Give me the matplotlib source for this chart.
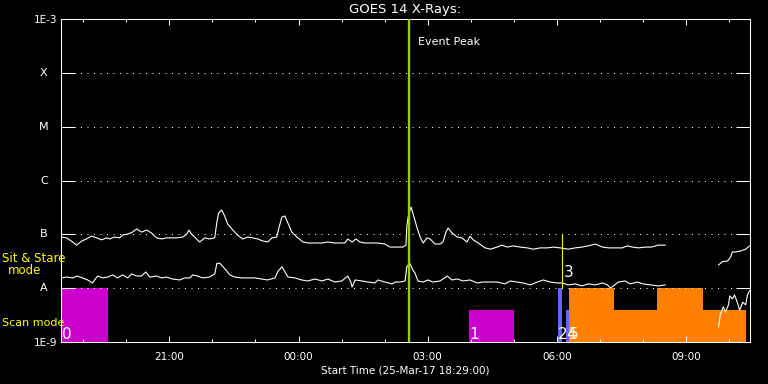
import numpy as np
import pandas as pd
import matplotlib
matplotlib.use("Agg")
import matplotlib.pyplot as plt
from matplotlib.ticker import FixedLocator, NullLocator

# start of the plotted window, times below are hours after it
start = pd.Timestamp("2017-03-25 18:29:00")
span_hours = 16

# long channel (upper curve), W/m^2
t_long = [0.01, 0.13, 0.27, 0.36, 0.48, 0.59, 0.71, 0.83, 0.94, 1.06,
          1.13, 1.24, 1.36, 1.43, 1.55, 1.66, 1.76, 1.87, 1.99, 2.10,
          2.22, 2.34, 2.45, 2.57, 2.69, 2.83, 2.92, 2.97, 3.03, 3.10,
          3.22, 3.34, 3.45, 3.57, 3.62, 3.66, 3.73, 3.80, 3.87, 3.99,
          4.10, 4.22, 4.34, 4.45, 4.57, 4.69, 4.80, 4.90, 5.01, 5.06,
          5.13, 5.20, 5.27, 5.36, 5.48, 5.62, 5.73, 5.90, 6.06, 6.20,
          6.36, 6.52, 6.59, 6.66, 6.76, 6.85, 6.94, 7.06, 7.22, 7.36,
          7.52, 7.64, 7.80, 7.94, 8.01, 8.03, 8.06, 8.13, 8.17, 8.27,
          8.34, 8.41, 8.50, 8.57, 8.69, 8.80, 8.87, 8.94, 8.99, 9.08,
          9.20, 9.31, 9.43, 9.50, 9.57, 9.69, 9.85, 9.97, 10.13, 10.24,
          10.36, 10.50, 10.66, 10.83, 10.97, 11.13, 11.29, 11.43, 11.59, 11.78,
          11.94, 12.10, 12.24, 12.41, 12.57, 12.71, 12.87, 13.03, 13.15, 13.27,
          13.41, 13.57, 13.71, 13.87, 14.03, 14.50, 15.27, 15.36, 15.48, 15.55,
          15.59, 15.66, 15.78, 15.90, 15.99]
flux_long = [8.9e-8, 8.6e-8, 7.2e-8, 6.3e-8, 7.5e-8, 8.2e-8, 9.3e-8, 8.6e-8, 7.9e-8, 8.6e-8,
             8.2e-8, 8.9e-8, 8.6e-8, 9.7e-8, 1.01e-7, 1.10e-7, 1.26e-7, 1.10e-7, 1.20e-7, 1.06e-7,
             8.6e-8, 8.2e-8, 8.6e-8, 8.6e-8, 8.6e-8, 8.9e-8, 1.01e-7, 1.20e-7, 1.01e-7, 8.9e-8,
             7.2e-8, 8.6e-8, 8.2e-8, 8.6e-8, 1.69e-7, 2.49e-7, 2.83e-7, 2.19e-7, 1.56e-7, 1.20e-7,
             9.7e-8, 8.2e-8, 8.9e-8, 8.6e-8, 8.2e-8, 7.5e-8, 7.2e-8, 8.6e-8, 8.9e-8, 1.31e-7,
             2.10e-7, 2.19e-7, 1.62e-7, 1.10e-7, 8.9e-8, 7.2e-8, 6.9e-8, 6.9e-8, 6.9e-8, 7.2e-8,
             6.9e-8, 6.9e-8, 6.9e-8, 8.2e-8, 7.2e-8, 8.2e-8, 7.2e-8, 6.9e-8, 6.9e-8, 6.9e-8,
             6.6e-8, 5.8e-8, 5.8e-8, 5.8e-8, 6.3e-8, 1.37e-7, 2.10e-7, 3.22e-7, 2.49e-7, 1.31e-7,
             8.9e-8, 6.9e-8, 8.6e-8, 8.2e-8, 6.6e-8, 6.6e-8, 7.2e-8, 1.10e-7, 1.31e-7, 1.06e-7,
             8.9e-8, 8.6e-8, 7.2e-8, 9.3e-8, 7.9e-8, 6.9e-8, 5.6e-8, 5.3e-8, 5.8e-8, 6.3e-8,
             5.8e-8, 6.1e-8, 5.8e-8, 5.6e-8, 5.3e-8, 5.6e-8, 5.6e-8, 5.8e-8, 5.6e-8, 5.3e-8,
             5.6e-8, 5.8e-8, 6.1e-8, 6.6e-8, 5.8e-8, 5.6e-8, 5.6e-8, 5.6e-8, 6.1e-8, 5.8e-8,
             5.6e-8, 5.8e-8, 5.8e-8, 6.3e-8, 6.3e-8, np.nan, 2.7e-8, 3.1e-8, 3.2e-8, 3.8e-8,
             4.7e-8, 4.7e-8, 4.9e-8, 5.3e-8, 6.1e-8]

# short channel (lower curve), W/m^2
t_short = [0.01, 0.13, 0.27, 0.38, 0.50, 0.62, 0.73, 0.85, 0.97, 1.08,
           1.20, 1.31, 1.43, 1.55, 1.64, 1.76, 1.87, 1.97, 2.06, 2.22,
           2.34, 2.45, 2.59, 2.76, 2.87, 2.99, 3.06, 3.17, 3.29, 3.45,
           3.57, 3.62, 3.69, 3.76, 3.85, 3.92, 4.03, 4.20, 4.34, 4.50,
           4.66, 4.80, 4.97, 5.03, 5.13, 5.20, 5.27, 5.43, 5.59, 5.73,
           5.90, 6.06, 6.20, 6.36, 6.52, 6.66, 6.73, 6.76, 6.83, 6.99,
           7.13, 7.29, 7.36, 7.52, 7.69, 7.76, 7.87, 7.99, 8.03, 8.10,
           8.17, 8.22, 8.29, 8.41, 8.52, 8.64, 8.80, 8.97, 9.08, 9.20,
           9.34, 9.50, 9.66, 9.80, 9.97, 10.13, 10.31, 10.43, 10.59, 10.73,
           10.90, 11.06, 11.20, 11.36, 11.52, 11.64, 11.78, 11.94, 12.10, 12.24,
           12.41, 12.57, 12.69, 12.76, 12.83, 12.94, 13.10, 13.22, 13.38, 13.52,
           13.69, 13.87, 14.03, 14.50, 15.27, 15.31, 15.38, 15.43, 15.50, 15.53,
           15.59, 15.64, 15.71, 15.76, 15.83, 15.90, 15.94, 15.99]
flux_short = [1.55e-8, 1.61e-8, 1.55e-8, 1.68e-8, 1.55e-8, 1.42e-8, 1.25e-8, 1.68e-8, 1.55e-8, 1.61e-8,
              1.76e-8, 1.55e-8, 1.76e-8, 1.55e-8, 1.83e-8, 1.68e-8, 1.68e-8, 2.0e-8, 1.61e-8, 1.68e-8,
              1.55e-8, 1.61e-8, 1.48e-8, 1.42e-8, 1.55e-8, 1.55e-8, 1.76e-8, 1.68e-8, 1.55e-8, 1.61e-8,
              1.83e-8, 2.9e-8, 2.9e-8, 2.5e-8, 2.08e-8, 1.76e-8, 1.61e-8, 1.55e-8, 1.55e-8, 1.55e-8,
              1.48e-8, 1.42e-8, 1.55e-8, 2.0e-8, 2.5e-8, 2.0e-8, 1.61e-8, 1.55e-8, 1.42e-8, 1.36e-8,
              1.48e-8, 1.36e-8, 1.48e-8, 1.30e-8, 1.36e-8, 1.68e-8, 1.30e-8, 1.05e-8, 1.42e-8, 1.36e-8,
              1.30e-8, 1.25e-8, 1.42e-8, 1.30e-8, 1.20e-8, 1.30e-8, 1.30e-8, 1.36e-8, 2.5e-8, 2.9e-8,
              2.18e-8, 1.91e-8, 1.36e-8, 1.30e-8, 1.42e-8, 1.30e-8, 1.36e-8, 1.68e-8, 1.42e-8, 1.48e-8,
              1.36e-8, 1.42e-8, 1.25e-8, 1.30e-8, 1.30e-8, 1.30e-8, 1.20e-8, 1.36e-8, 1.30e-8, 1.25e-8,
              1.15e-8, 1.30e-8, 1.42e-8, 1.30e-8, 1.25e-8, 1.25e-8, 1.15e-8, 1.20e-8, 1.10e-8, 1.20e-8,
              1.15e-8, 1.25e-8, 1.15e-8, 1.01e-8, 1.10e-8, 1.30e-8, 1.36e-8, 1.20e-8, 1.30e-8, 1.20e-8,
              1.15e-8, 1.10e-8, 1.15e-8, np.nan, 1.9e-9, 3.2e-9, 4.5e-9, 3.6e-9, 4.9e-9, 7.2e-9,
              6.3e-9, 7.5e-9, 5.3e-9, 3.9e-9, 5.5e-9, 4.9e-9, 7.5e-9, 8.9e-9]

# observing mode blocks along the bottom
mode_start = [0.03, 9.48, 11.55, 11.73, 11.80, 12.85, 13.85, 14.90]
mode_end = [1.08, 10.52, 11.64, 11.80, 12.85, 13.85, 14.90, 15.90]
mode_top = [1e-8, 3.9e-9, 1e-8, 3.9e-9, 1e-8, 3.9e-9, 1e-8, 3.9e-9]
mode_color = ["#cc00cc", "#cc00cc", "#6464ff", "#6464ff",
              "#ff8000", "#ff8000", "#ff8000", "#ff8000"]
mode_labels = ["0", "1", "2", "4", "5"]
mode_label_t = [0.03, 9.48, 11.55, 11.73, 11.80]

event_peak = 8.08      # hours after start
marker3 = 11.64

class_levels = [1e-8, 1e-7, 1e-6, 1e-5, 1e-4]
class_names = ["A", "B", "C", "M", "X"]

fig = plt.figure(figsize=(7.68, 3.84), dpi=100, facecolor="black")
ax = fig.add_axes([61 / 768, 42 / 384, 689 / 768, 323 / 384], facecolor="black")
ax.set_yscale("log")
ax.set_xlim(0, span_hours)
ax.set_ylim(1e-9, 1e-3)

# mode bars
heights = np.array(mode_top) - 1e-9
widths = np.array(mode_end) - np.array(mode_start)
ax.bar(mode_start, heights, width=widths, bottom=1e-9, align="edge",
       color=mode_color, linewidth=0, zorder=1)
for lab, t in zip(mode_labels, mode_label_t):
    ax.text(t, 1.12e-9, lab, color="white", fontsize=11, ha="left",
            va="baseline", zorder=6)

# class grid
for lvl in class_levels:
    ax.axhline(lvl, color="white", linewidth=0.72, linestyle=(0, (1, 5.5)), zorder=2)

ax.plot(t_long, flux_long, color="white", linewidth=0.8, zorder=3)
ax.plot(t_short, flux_short, color="white", linewidth=0.8, zorder=3)

ax.axvline(event_peak, color="#9ccc00", linewidth=1.7, zorder=4)
ax.text(event_peak + 0.21, 3.7e-4, "Event Peak", color="white", fontsize=8,
        ha="left", va="center")
ax.plot([marker3, marker3], [1e-8, 1e-7], color="#ffff00", linewidth=0.8, zorder=4)
ax.text(marker3 + 0.03, 1.6e-8, "3", color="white", fontsize=11, ha="left",
        va="baseline", zorder=6)

# axes styling
for s in ax.spines.values():
    s.set_color("white")
    s.set_linewidth(0.75)

major = pd.date_range("2017-03-25 21:00", periods=5, freq="3h")
minor = pd.date_range("2017-03-25 19:00", periods=16, freq="1h")
ax.xaxis.set_major_locator(FixedLocator((major - start) / pd.Timedelta("1h")))
ax.xaxis.set_minor_locator(FixedLocator((minor - start) / pd.Timedelta("1h")))
ax.set_xticklabels([d.strftime("%H:%M") for d in major])
ax.tick_params(axis="x", which="major", direction="in", length=4.3, width=0.75,
               colors="white", top=True, labelsize=7.5, pad=7)
ax.tick_params(axis="x", which="minor", direction="in", length=2.2, width=0.75,
               colors="white", top=True)

ax.yaxis.set_major_locator(FixedLocator([1e-9] + class_levels + [1e-3]))
ax.yaxis.set_minor_locator(NullLocator())
ax.set_yticklabels(["1E-9", "", "", "", "", "", "1E-3"])
ax.tick_params(axis="y", which="major", direction="in", length=10, width=0.75,
               colors="white", right=True, labelsize=7.5, pad=3)
for lvl, name in zip(class_levels, class_names):
    ax.text(-0.0247, lvl, name, transform=ax.get_yaxis_transform(),
            color="white", fontsize=8, ha="center", va="center")

ax.set_xlabel("Start Time (" + start.strftime("%d-%b-%y %H:%M:%S") + ")",
              color="white", fontsize=7.5, labelpad=3)
fig.text(405.5 / 768, 1 - 9 / 384, "GOES 14 X-Rays:", color="white",
         fontsize=9.5, ha="center", va="center")

# mode captions on the left
fig.text(2 / 768, 1 - 259 / 384, "Sit & Stare", color="#ffff00", fontsize=8.5,
         ha="left", va="center", zorder=10)
fig.text(24.5 / 768, 1 - 271 / 384, "mode", color="#ffff00", fontsize=8.5,
         ha="center", va="center", zorder=10)
fig.text(2 / 768, 1 - 323.5 / 384, "Scan mode", color="#ffff00", fontsize=8,
         ha="left", va="center", zorder=10)

fig.savefig("out.png", dpi=100, facecolor="black")
print("Generated GOES plot")
